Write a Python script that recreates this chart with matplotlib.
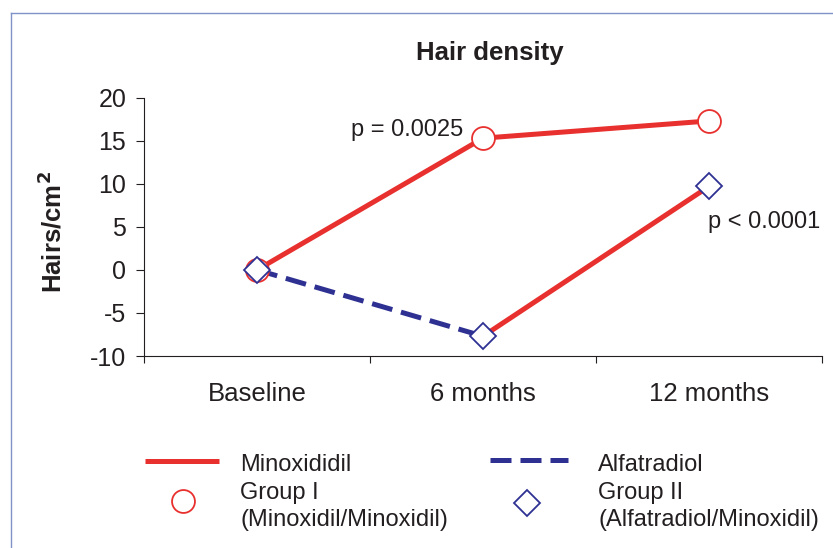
import matplotlib
matplotlib.use("Agg")
import matplotlib.pyplot as plt
from matplotlib.lines import Line2D

plt.rcParams['font.family'] = ['Liberation Sans', 'DejaVu Sans']
plt.rcParams['axes.unicode_minus'] = False
ink = '#231f20'
plt.rcParams['text.color'] = ink
plt.rcParams['xtick.color'] = ink
plt.rcParams['ytick.color'] = ink
plt.rcParams['axes.edgecolor'] = ink

# data
timepoints = ['Baseline', '6 months', '12 months']
group1 = [0.0, 15.3, 17.3]   # Minoxidil / Minoxidil
group2 = [0.0, -7.7, 9.7]    # Alfatradiol / Minoxidil
p_values = ['p = 0.0025', 'p < 0.0001']

red = '#e8302e'
blue = '#2e3192'
x = list(range(len(timepoints)))

fig = plt.figure(figsize=(8.33, 5.48), dpi=100)
ax = fig.add_axes([144 / 833, 1 - 356 / 548, 678 / 833, (356 - 97.7) / 548])

# group I: minoxidil throughout
ax.plot(x, group1, color=red, lw=3.6, solid_capstyle='butt', zorder=2)
# group II: alfatradiol first 6 months, then minoxidil
ax.plot(x[:2], group2[:2], color=blue, lw=3.6, linestyle=(0, (4.2, 1.8)), zorder=2)
ax.plot(x[1:], group2[1:], color=red, lw=3.6, solid_capstyle='butt', zorder=2)

ax.plot(x, group1, linestyle='none', marker='o', ms=16.5, mfc='white', mec=red, mew=1.3, zorder=3)
ax.plot(x, group2, linestyle='none', marker='D', ms=13.5, mfc='white', mec=blue, mew=1.3, zorder=4)

ax.annotate(p_values[0], (x[1], group1[1]), xytext=(-14, 6), textcoords='offset points',
            ha='right', va='center', fontsize=17)
ax.annotate(p_values[1], (x[2], group2[2]), xytext=(-1, -26), textcoords='offset points',
            ha='left', va='center', fontsize=17)

ax.set_xlim(-0.5, 2.5)
ax.set_ylim(-10, 20)
ax.set_yticks(range(-10, 21, 5))
ax.set_xticks(x)
ax.set_xticklabels(timepoints)
ax.set_xticks([-0.5, 0.5, 1.5, 2.5], minor=True)
ax.tick_params(axis='x', which='major', length=0, pad=19, labelsize=18.5)
ax.tick_params(axis='x', which='minor', length=5, width=0.8, direction='out')
ax.tick_params(axis='y', length=5.8, width=0.8, pad=7, labelsize=18)
for s in ['top', 'right']:
    ax.spines[s].set_visible(False)
for s in ['left', 'bottom']:
    ax.spines[s].set_linewidth(0.8)

fig.text(490 / 833, 1 - 53 / 548, 'Hair density', ha='center', va='center',
         fontsize=18.5, fontweight='bold')
fig.text(52 / 833, 1 - 232 / 548, 'Hairs/cm$^\\mathbf{2}$', ha='center', va='center',
         rotation=90, fontsize=18.5, fontweight='bold')

# legend drawn below the axes
def fx(px):
    return px / 833

def fy(py):
    return 1 - py / 548

fig.add_artist(Line2D([fx(145), fx(219)], [fy(461), fy(461)], color=red, lw=3.6,
                      solid_capstyle='butt'))
fig.add_artist(Line2D([fx(183)], [fy(501)], marker='o', ms=16.5, mfc='white', mec=red, mew=1.3))
fig.add_artist(Line2D([fx(490), fx(568)], [fy(460), fy(460)], color=blue, lw=3.6,
                      linestyle=(0, (4.2, 1.8))))
fig.add_artist(Line2D([fx(527)], [fy(503)], marker='D', ms=13.5, mfc='white', mec=blue, mew=1.3))

legend_left = ['Minoxididil', 'Group I', '(Minoxidil/Minoxidil)']
legend_right = ['Alfatradiol', 'Group II', '(Alfatradiol/Minoxidil)']
for i, (a, b) in enumerate(zip(legend_left, legend_right)):
    yy = fy(465 + 27.5 * i)
    fig.text(fx(240), yy, a, ha='left', va='center', fontsize=17)
    fig.text(fx(598), yy, b, ha='left', va='center', fontsize=17)

# thin frame around the figure
frame = '#7f93c8'
fig.add_artist(Line2D([fx(11), fx(833)], [fy(13), fy(13)], color=frame, lw=1))
fig.add_artist(Line2D([fx(11), fx(11)], [fy(13), fy(548)], color=frame, lw=1))

fig.savefig('out.png', dpi=100)
